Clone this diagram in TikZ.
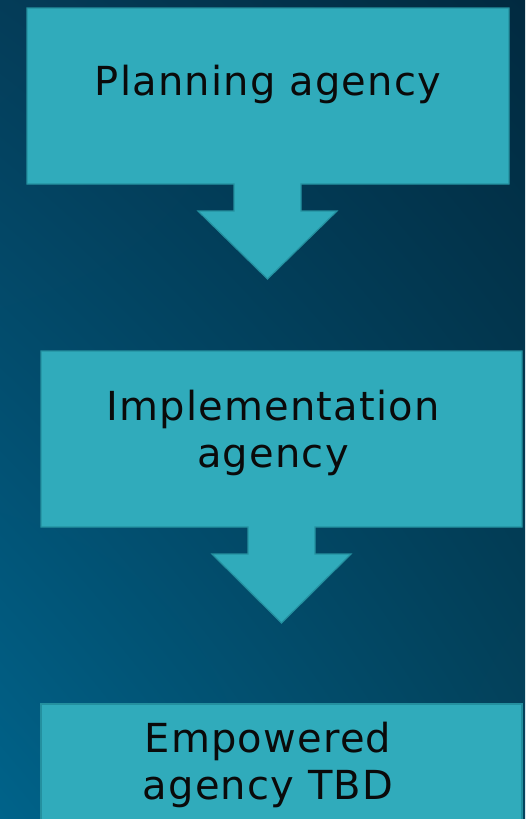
\documentclass[tikz,border=0pt]{standalone}
\usepackage{fontspec}
\setmainfont{DejaVu Sans}[LetterSpace=3]
\usepackage{tikz}
\usetikzlibrary{positioning,calc,shadings}
\definecolor{bgtl}{HTML}{043C58}
\definecolor{bgtr}{HTML}{012A40}
\definecolor{bgbl}{HTML}{00638A}
\definecolor{bgbr}{HTML}{03455F}
\definecolor{tealfill}{HTML}{30ABBB}
\definecolor{tealedge}{HTML}{24909F}
\definecolor{inkdark}{HTML}{0A0A0A}
\tikzset{
  calloutbox/.style={
    draw=tealedge, fill=tealfill, line width=1.2pt, line join=miter
  },
  agencytext/.style={
    font=\fontsize{40}{47}\selectfont, text=inkdark,
    align=center, inner sep=0pt
  },
}

\begin{document}
\begin{tikzpicture}[x=1pt, y=-1pt]
  \useasboundingbox (0,0) rectangle (525,819);
  \clip (0,0) rectangle (525,819);
  \shade[upper left=bgtl, upper right=bgtr, lower left=bgbl, lower right=bgbr]
    (0,0) rectangle (525,819);

  % Planning callout
  \draw[calloutbox] (27,8) -- (509,8) -- (509,184) -- (301,184) -- (301,211)
    -- (337,211) -- (267.5,279) -- (198,211) -- (234,211) -- (234,184)
    -- (27,184) -- cycle;
  \node[agencytext, anchor=base] (plan) at (268,95) {Planning agency};

  % Implementation callout
  \draw[calloutbox] (41,351) -- (522,351) -- (522,527) -- (315,527) -- (315,554)
    -- (351,554) -- (281.5,623) -- (212,554) -- (248,554) -- (248,527)
    -- (41,527) -- cycle;
  \node[agencytext, anchor=base] (impl) at (273,467) {Implementation\\agency};

  % Empowered box (runs off the page)
  \draw[calloutbox] (41,704) rectangle (522,840);
  \node[agencytext, anchor=base] (empw) at (268,799) {Empowered\\agency TBD};
\end{tikzpicture}
\end{document}
